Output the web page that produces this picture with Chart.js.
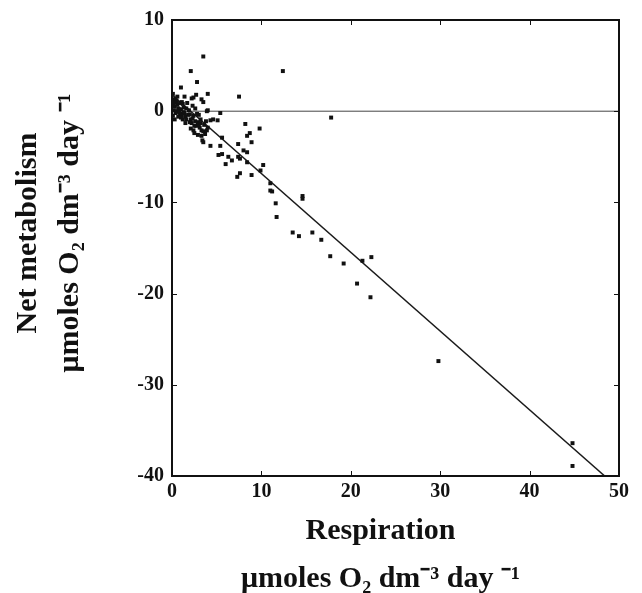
<!DOCTYPE html>
<html>
<head>
<meta charset="utf-8">
<script src="https://cdn.jsdelivr.net/npm/chart.js@4/dist/chart.umd.min.js"></script>
<style>
  html, body { margin: 0; padding: 0; background: #fff; }
  #wrap { width: 642px; height: 593px; }
</style>
</head>
<body>
<div id="wrap"><canvas id="metabolismChart"></canvas></div>
<script>
// Respiration (x) vs net metabolism (y), µmoles O2 dm-3 day-1
const respiration = [
  0.1, 0.2, 0.1, 0.3, 0.2, 0.4, 0.5, 0.6, 0.8, 1.0, 0.9, 1.2, 1.3, 1.5, 1.1, 1.6,
  1.8, 2.0, 2.1, 2.2, 2.4, 2.5, 2.4, 2.7, 2.9, 3.1, 3.3, 3.3, 3.4, 3.5, 3.5, 3.7,
  4.0, 3.8, 1.0, 2.2, 2.7, 3.3, 4.0, 2.4, 3.5, 4.0, 3.9, 2.1, 2.8, 3.5, 1.4, 0.7,
  1.7, 2.6, 3.0, 2.9, 0.3, 1.2,
  0.2, 0.4, 0.5, 0.7, 0.9, 1.1, 1.3, 1.4, 1.6, 1.9, 2.0, 2.3, 2.6, 2.8, 3.0, 3.2,
  3.6, 3.9, 1.0, 0.1, 2.3, 0.6, 0.3, 0.8, 1.5, 2.1, 2.5, 3.2,
  4.3, 4.6, 5.1, 5.4, 7.5, 12.4, 17.8, 5.6, 4.3, 5.4, 5.2, 5.6, 6.3, 6.7, 6.0, 7.4,
  8.0, 8.4, 7.4, 7.6, 8.4, 10.2, 9.9, 7.6, 7.3, 8.9, 8.2, 9.8, 8.4, 8.7, 8.9, 11.0,
  11.0, 11.2, 11.6, 11.7, 14.6, 14.6, 13.5, 14.2, 15.7, 16.7, 17.7, 19.2, 20.7, 21.3,
  22.3, 22.2, 29.8, 44.8, 44.8
];
const netMetabolism = [
  1.9, 1.3, 0.9, 0.5, 0.1, -0.2, 1.1, 0.7, 0.2, 0.2, -0.3, 0.8, -0.1, -0.6, 1.0, 0.3,
  -0.4, -0.35, -0.9, -1.3, -0.5, -1.6, -2.1, -1.6, -1.2, -1.8, -2.1, -2.7, -3.2, -3.4, -2.2, -2.5,
  -1.8, -1.1, 2.6, 1.4, 1.8, 1.3, 1.9, 1.5, 1.0, 0.1, 0.0, 4.4, 3.2, 6.0, 1.6, -0.6,
  0.9, 0.3, -0.4, -2.6, -0.9, -0.9,
  0.6, 1.4, 0.0, 0.3, 0.9, -0.5, 0.4, -0.2, -0.9, 0.1, -1.2, -0.8, -1.1, -0.3, -1.5, -0.9,
  -1.5, -2.1, -0.7, -0.5, 0.6, 1.6, 1.0, -0.1, -1.3, -1.9, -2.4, -1.3,
  -1.0, -0.9, -1.0, -0.2, 1.6, 4.4, -0.7, -2.9, -3.8, -3.8, -4.8, -4.7, -5.0, -5.4, -5.8, -3.6,
  -4.3, -4.5, -5.0, -5.2, -5.6, -5.9, -6.5, -6.8, -7.2, -7.0, -1.4, -1.9, -2.7, -2.4, -3.4, -7.9,
  -8.7, -8.8, -10.1, -11.6, -9.3, -9.6, -13.3, -13.7, -13.3, -14.1, -15.9, -16.7, -18.9, -16.4,
  -16.0, -20.4, -27.4, -36.4, -38.9
];

// fitted regression line end points and the zero line
const fitX = [0, 48.4];
const fitY = [1.8, -40];
const zeroX = [0, 50];
const zeroY = [0, 0];

const xTicks = [0, 10, 20, 30, 40, 50];
const yTicks = [-40, -30, -20, -10, 0, 10];

const toPoints = (xs, ys) => xs.map((x, i) => ({ x: x, y: ys[i] }));

const serif = '"Liberation Serif", "Times New Roman", serif';

// frame round the plot area with small inward tick marks
const framePlugin = {
    id: 'frame',
    afterDatasetsDraw(chart) {
        const { ctx, chartArea: a, scales } = chart;
        const len = 5;
        ctx.save();
        ctx.strokeStyle = '#111';
        ctx.lineWidth = 1;
        xTicks.forEach(v => {
            const px = Math.round(scales.x.getPixelForValue(v)) + 0.5;
            ctx.beginPath();
            ctx.moveTo(px, a.bottom); ctx.lineTo(px, a.bottom - len);
            ctx.moveTo(px, a.top); ctx.lineTo(px, a.top + len);
            ctx.stroke();
        });
        yTicks.forEach(v => {
            const py = Math.round(scales.y.getPixelForValue(v)) + 0.5;
            ctx.beginPath();
            ctx.moveTo(a.left, py); ctx.lineTo(a.left + len, py);
            ctx.moveTo(a.right, py); ctx.lineTo(a.right - len, py);
            ctx.stroke();
        });
        ctx.lineWidth = 2;
        ctx.strokeRect(a.left, a.top, a.right - a.left, a.bottom - a.top);
        ctx.restore();
    }
};

const ctx = document.getElementById('metabolismChart');

new Chart(ctx, {
    type: 'scatter',
    data: {
        datasets: [
            {
                label: 'Observations',
                data: toPoints(respiration, netMetabolism),
                pointStyle: 'rect',
                pointRadius: 2.8,
                backgroundColor: '#111',
                borderColor: '#111',
                borderWidth: 0
            },
            {
                label: 'Regression',
                type: 'line',
                data: toPoints(fitX, fitY),
                borderColor: '#1a1a1a',
                borderWidth: 1.5,
                pointRadius: 0,
                fill: false
            },
            {
                label: 'Zero',
                type: 'line',
                data: toPoints(zeroX, zeroY),
                borderColor: '#444',
                borderWidth: 1,
                pointRadius: 0,
                fill: false
            }
        ]
    },
    options: {
        responsive: true,
        maintainAspectRatio: false,
        animation: false,
        layout: {
            padding: { top: 17, right: 23, left: 0, bottom: 0 }
        },
        plugins: {
            legend: { display: false },
            tooltip: { enabled: false }
        },
        scales: {
            x: {
                type: 'linear',
                min: 0,
                max: 50,
                afterBuildTicks: s => { s.ticks = xTicks.map(v => ({ value: v })); },
                afterFit: s => { s.height = 117; },
                grid: { display: false, drawTicks: false },
                border: { display: false },
                ticks: {
                    padding: 4,
                    color: '#111',
                    font: { family: serif, size: 20, weight: 'bold' }
                },
                title: {
                    display: true,
                    // trailing spaces nudge the centred text a little to the left
                    text: ['Respiration    ', 'μmoles O₂ dm⁻³ day ⁻¹    '],
                    color: '#111',
                    font: { family: serif, size: 30, weight: 'bold', lineHeight: 1.6 },
                    padding: { top: 0, bottom: -10 }
                }
            },
            y: {
                type: 'linear',
                min: -40,
                max: 10,
                afterBuildTicks: s => { s.ticks = yTicks.map(v => ({ value: v })); },
                afterFit: s => { s.width = 172; },
                grid: { display: false, drawTicks: false },
                border: { display: false },
                ticks: {
                    padding: 8,
                    color: '#111',
                    font: { family: serif, size: 20, weight: 'bold' }
                },
                title: {
                    display: true,
                    // leading spaces lift the rotated text a little
                    text: ['    Net metabolism', '    μmoles O₂ dm⁻³ day ⁻¹'],
                    color: '#111',
                    font: { family: serif, size: 30, weight: 'bold', lineHeight: 1.4 },
                    padding: { top: 7, bottom: 0 }
                }
            }
        }
    },
    plugins: [framePlugin]
});
</script>
</body>
</html>
